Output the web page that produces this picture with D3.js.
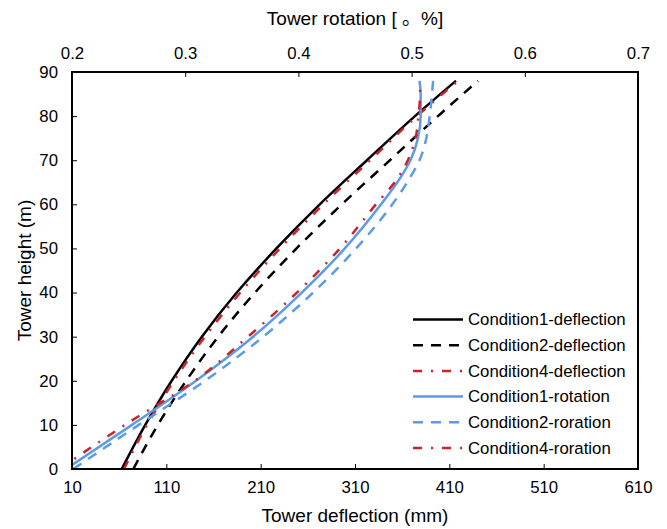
<!DOCTYPE html>
<html>
<head>
<meta charset="utf-8">
<script src="https://cdn.jsdelivr.net/npm/d3@7"></script>
<style>
  html, body { margin: 0; padding: 0; background: #fff; }
  svg text { font-family: "Liberation Sans", Arial, "Noto Sans CJK SC", sans-serif; fill: #000; }
</style>
</head>
<body>
<svg id="chart" width="667" height="529"></svg>
<script>
// ---- data ----
const heights = [0, 10, 20, 30, 40, 50, 60, 70, 80, 88];
const cond1Deflection = [62.7, 87.7, 115.7, 147.7, 184.7, 226.7, 272.7, 322.7, 373.6, 417];
const cond2Deflection = [75, 101, 131, 165, 204, 248, 296, 347, 398, 440.4];
const cond4Deflection = [65.1, 89.5, 118, 151, 188.5, 230.5, 276.5, 326, 375.7, 419.2];

const rotHeights = [0, 10, 20, 30, 40, 50, 60, 66, 70, 75, 80, 85, 88];
const cond1Rotation = [0.1947, 0.253, 0.3095, 0.360, 0.403, 0.441, 0.473, 0.490, 0.499, 0.5056, 0.508, 0.508, 0.507];
const cond2Rotation = [0.201, 0.259, 0.3175, 0.369, 0.413, 0.451, 0.483, 0.4985, 0.507, 0.513, 0.516, 0.518, 0.519];
const cond4Rotation = [0.189, 0.2468, 0.3086, 0.3555, 0.3987, 0.4367, 0.4685, 0.488, 0.4967, 0.5035, 0.506, 0.5075, 0.5075];

const deflectionTicks = [10, 110, 210, 310, 410, 510, 610];
const rotationTicks = [0.2, 0.3, 0.4, 0.5, 0.6, 0.7];
const heightTicks = [0, 10, 20, 30, 40, 50, 60, 70, 80, 90];

const seriesNames = ["Condition1-deflection", "Condition2-deflection", "Condition4-deflection",
                     "Condition1-rotation", "Condition2-roration", "Condition4-roration"];

// ---- layout ----
const L = 72, R = 638, T = 72, B = 469;
const svg = d3.select("#chart");
const FS = 16.8, TFS = 19;

const xDef = d3.scaleLinear().domain([10, 610]).range([L, R]);
const xRot = d3.scaleLinear().domain([0.2, 0.7]).range([L, R]);
const y = d3.scaleLinear().domain([0, 90]).range([B, T]);

const red = "#cc2229", blue = "#5b9be8";
const styles = [
  { color: "#000", dash: null },
  { color: "#000", dash: "10,8" },
  { color: red, dash: "9,9,2,9" },
  { color: blue, dash: null },
  { color: blue, dash: "10,8" },
  { color: red, dash: "9,9,2,9" }
];

svg.append("defs").append("clipPath").attr("id", "clip")
  .append("rect").attr("x", L).attr("y", T).attr("width", R - L).attr("height", B - T);

const g = svg.append("g").attr("clip-path", "url(#clip)");

function drawSeries(hs, vals, xs, st) {
  const pts = hs.map((h, i) => [xs(vals[i]), y(h)]);
  const line = d3.line().x(d => d[0]).y(d => d[1]).curve(d3.curveMonotoneY);
  g.append("path").attr("d", line(pts)).attr("fill", "none")
    .attr("stroke", st.color).attr("stroke-width", 2.5)
    .attr("stroke-dasharray", st.dash);
}
drawSeries(heights, cond1Deflection, xDef, styles[0]);
drawSeries(heights, cond2Deflection, xDef, styles[1]);
drawSeries(heights, cond4Deflection, xDef, styles[2]);
drawSeries(rotHeights, cond1Rotation, xRot, styles[3]);
drawSeries(rotHeights, cond2Rotation, xRot, styles[4]);
drawSeries(rotHeights, cond4Rotation, xRot, styles[5]);

// ---- axes ----
const axB = d3.axisBottom(xDef).tickValues(deflectionTicks).tickSize(-5).tickPadding(12).tickFormat(d3.format("d"));
const axT = d3.axisTop(xRot).tickValues(rotationTicks).tickSize(-5).tickPadding(13).tickFormat(d3.format(".1f"));
const axL = d3.axisLeft(y).tickValues(heightTicks).tickSize(-5).tickPadding(14).tickFormat(d3.format("d"));

function styleAxis(sel) {
  sel.select(".domain").remove();
  sel.selectAll(".tick line").attr("stroke", "#000").attr("stroke-width", 1);
  sel.selectAll(".tick text").style("font-size", FS + "px").attr("fill", "#000");
}
svg.append("g").attr("transform", `translate(0,${B})`).call(axB).call(styleAxis);
svg.append("g").attr("transform", `translate(0,${T})`).call(axT).call(styleAxis);
svg.append("g").attr("transform", `translate(${L},0)`).call(axL).call(styleAxis);

// frame
svg.append("rect").attr("x", L).attr("y", T).attr("width", R - L).attr("height", B - T)
  .attr("fill", "none").attr("stroke", "#000").attr("stroke-width", 2);

// titles
svg.append("text").attr("x", (L + R) / 2).attr("y", 25).attr("text-anchor", "middle")
  .style("font-size", TFS + "px").text("Tower rotation [ 。%]");
svg.append("text").attr("x", (L + R) / 2).attr("y", 522).attr("text-anchor", "middle")
  .style("font-size", TFS + "px").text("Tower deflection (mm)");
svg.append("text").attr("transform", `translate(31,${(T + B) / 2}) rotate(-90)`).attr("text-anchor", "middle")
  .style("font-size", TFS + "px").text("Tower height (m)");

// legend
const legY0 = 319.5, legDY = 25.7;
seriesNames.forEach((name, i) => {
  const yy = legY0 + i * legDY;
  svg.append("line").attr("x1", 413).attr("x2", 463).attr("y1", yy).attr("y2", yy)
    .attr("stroke", styles[i].color).attr("stroke-width", 2.5)
    .attr("stroke-dasharray", styles[i].dash);
  svg.append("text").attr("x", 468).attr("y", yy).attr("dy", "0.35em")
    .style("font-size", FS + "px").text(name);
});
</script>
</body>
</html>
